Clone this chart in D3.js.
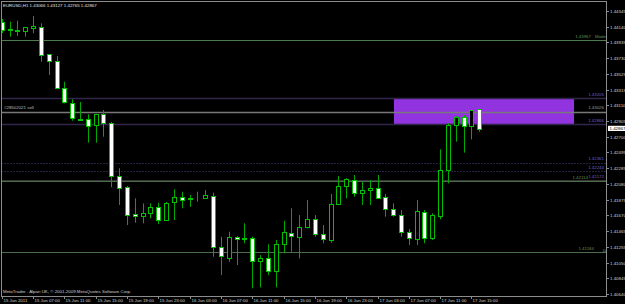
<!DOCTYPE html>
<html>
<head>
<meta charset="utf-8">
<title>EURUSD,H1</title>
<style>
  body { margin: 0; background: #000; }
  svg { display: block; background: #000; }
  text { font-family: "Liberation Sans", Arial, sans-serif; font-size: 4.4px; }
</style>
</head>
<body>
<svg width="625" height="304"></svg>
<script src="https://d3js.org/d3.v7.min.js"></script>
<script>
// EURUSD H1, 15 Jun 2011 03:00 .. 17 Jun 2011 16:00
const openP = [
  1.44205, 1.44090, 1.44096, 1.44074, 1.44126, 1.44139, 1.43778, 1.43690, 1.43333, 1.43137,
  1.42923, 1.42927, 1.42849, 1.42993, 1.42875, 1.42185, 1.42045, 1.41687, 1.41670, 1.41696,
  1.41783, 1.41618, 1.41840, 1.41906, 1.41889, 1.41919, 1.41893, 1.41923, 1.41251, 1.41120,
  1.41390, 1.41365, 1.41369, 1.41068, 1.41107, 1.40932, 1.41294, 1.41442, 1.41390, 1.41513,
  1.41618, 1.41421, 1.41347, 1.41818, 1.42045, 1.42132, 1.41966, 1.42001, 1.42024, 1.41906,
  1.41749, 1.41674, 1.41455, 1.41369, 1.41717, 1.41369, 1.41661, 1.42263, 1.42852, 1.42961,
  1.42839, 1.43066
];
const highP = [
  1.44240, 1.44205, 1.44218, 1.44136, 1.44280, 1.44184, 1.43782, 1.43756, 1.43419, 1.43189,
  1.43154, 1.42993, 1.42996, 1.43049, 1.42892, 1.42286, 1.42054, 1.41893, 1.41827, 1.41827,
  1.41835, 1.41844, 1.42011, 1.41979, 1.41936, 1.41979, 1.42001, 1.41966, 1.41390, 1.41455,
  1.41399, 1.41565, 1.41390, 1.41150, 1.41290, 1.41347, 1.41599, 1.41762, 1.41674, 1.41870,
  1.41674, 1.41543, 1.41949, 1.42185, 1.42155, 1.42198, 1.42110, 1.42132, 1.42198, 1.41949,
  1.41827, 1.41740, 1.41491, 1.41870, 1.41740, 1.41696, 1.42534, 1.42875, 1.42970, 1.42983,
  1.43114, 1.43127
];
const lowP = [
  1.44057, 1.44009, 1.44018, 1.44009, 1.44053, 1.43681, 1.43507, 1.43330, 1.43134, 1.42909,
  1.42918, 1.42621, 1.42621, 1.42699, 1.42037, 1.41805, 1.41543, 1.41573, 1.41565, 1.41631,
  1.41556, 1.41609, 1.41609, 1.41762, 1.41783, 1.41848, 1.41884, 1.41128, 1.40888, 1.41063,
  1.41019, 1.41304, 1.40714, 1.40727, 1.40888, 1.40727, 1.41173, 1.41194, 1.41107, 1.41500,
  1.41390, 1.41304, 1.41311, 1.41805, 1.41893, 1.41914, 1.41805, 1.41805, 1.41884, 1.41652,
  1.41652, 1.41390, 1.41281, 1.41281, 1.41304, 1.41347, 1.41618, 1.42089, 1.42634, 1.42490,
  1.42665, 1.42765
];
const closeP = [
  1.44096, 1.44103, 1.44083, 1.44132, 1.44149, 1.43778, 1.43690, 1.43333, 1.43144, 1.42935,
  1.42931, 1.42839, 1.42993, 1.42875, 1.42185, 1.42024, 1.41674, 1.41661, 1.41704, 1.41775,
  1.41618, 1.41835, 1.41906, 1.41870, 1.41897, 1.41925, 1.41936, 1.41251, 1.41128, 1.41390,
  1.41364, 1.41373, 1.41072, 1.41107, 1.40932, 1.41290, 1.41455, 1.41403, 1.41521, 1.41618,
  1.41421, 1.41356, 1.41818, 1.42058, 1.42141, 1.41966, 1.42001, 1.42028, 1.41897, 1.41749,
  1.41674, 1.41455, 1.41377, 1.41730, 1.41377, 1.41674, 1.42263, 1.42852, 1.42961, 1.42839,
  1.43049, 1.42800
];

const timeLabels = ['15 Jun 2011', '15 Jun 07:00', '15 Jun 11:00', '15 Jun 15:00', '15 Jun 19:00',
  '15 Jun 23:00', '16 Jun 03:00', '16 Jun 07:00', '16 Jun 11:00', '16 Jun 15:00', '16 Jun 19:00',
  '16 Jun 23:00', '17 Jun 03:00', '17 Jun 07:00', '17 Jun 11:00', '17 Jun 15:00'];
const timeLabelBars = [0, 4, 8, 12, 16, 20, 24, 28, 32, 36, 40, 44, 48, 52, 56, 60];

const priceTicks = [1.44345, 1.44140, 1.43935, 1.43730, 1.43525, 1.43315, 1.43110, 1.42905, 1.42700,
  1.42495, 1.42285, 1.42080, 1.41875, 1.41670, 1.41465, 1.41255, 1.41050, 1.40845, 1.40640];

// horizontal objects
const levelPrices = [1.43967, 1.43205, 1.43028, 1.42866, 1.42361, 1.42244, 1.42130, 1.42114, 1.41184];
const levelLabels = ['1.43967', '1.43205', '1.43026', '1.42866', '1.42361', '1.42244', '1.42172', '1.42114', '1.41184'];
const levelKinds  = ['mode', 'purple', 'order', 'purple', 'dot', 'dot', 'grey', 'green', 'green'];

// rectangle zone (bar index from/to, price top/bottom)
const zoneBars = [50.1, 73.1];
const zonePrices = [1.43205, 1.42866];

const titleText = 'EURUSD,H1  1.43066 1.43127 1.42765 1.42867';
const orderText = '#28502021 sell';
const footerText = 'MetaTrader - Alpari UK, \u00a9 2001-2009 MetaQuotes Software Corp.';
const lastPrice = 1.42867;

const svg = d3.select('svg');
const frame = { left: 1.5, top: 1.5, right: 606.5, bottom: 296.5 };

const xScale = d3.scaleLinear().domain([0, 61]).range([1.7, 479.3]);
const yScale = d3.scaleLinear().domain([1.40640, 1.44345]).range([294, 11]);

const bars = openP.map((o, i) => ({ i, o, h: highP[i], l: lowP[i], c: closeP[i] }));

svg.append('defs').append('clipPath').attr('id', 'plot')
  .append('rect')
  .attr('x', frame.left + 0.5).attr('y', frame.top + 0.5)
  .attr('width', frame.right - frame.left - 1).attr('height', frame.bottom - frame.top - 1);

const plot = svg.append('g').attr('clip-path', 'url(#plot)');

// purple zone
plot.append('rect')
  .attr('x', xScale(zoneBars[0]))
  .attr('y', yScale(zonePrices[0]))
  .attr('width', xScale(zoneBars[1]) - xScale(zoneBars[0]))
  .attr('height', yScale(zonePrices[1]) - yScale(zonePrices[0]))
  .attr('fill', '#9133df');

// horizontal lines
const lineStyle = {
  mode:   { stroke: '#4c7c4c', width: 1, dash: null },
  green:  { stroke: '#4c6c4c', width: 1, dash: null },
  purple: { stroke: '#30264c', width: 1.6, dash: null },
  order:  { stroke: '#787878', width: 1.6, dash: null },
  dot:    { stroke: '#4a4488', width: 1, dash: '1,2' },
  grey:   { stroke: '#6a6a6a', width: 1, dash: '1,1' }
};
levelPrices.forEach((p, k) => {
  const st = lineStyle[levelKinds[k]];
  const y = Math.round(yScale(p)) + 0.5;
  plot.append('line')
    .attr('x1', frame.left).attr('x2', frame.right)
    .attr('y1', y).attr('y2', y)
    .attr('stroke', st.stroke)
    .attr('stroke-width', st.width)
    .attr('stroke-dasharray', st.dash);
});

// candles
const candle = plot.selectAll('g.bar').data(bars).enter().append('g').attr('class', 'bar');
candle.append('line')
  .attr('x1', d => Math.round(xScale(d.i)) + 0.5)
  .attr('x2', d => Math.round(xScale(d.i)) + 0.5)
  .attr('y1', d => yScale(d.h))
  .attr('y2', d => yScale(d.l))
  .attr('stroke', '#00a800')
  .attr('stroke-width', 1);
candle.append('rect')
  .attr('x', d => Math.round(xScale(d.i)) - 1.5)
  .attr('y', d => Math.round(yScale(Math.max(d.o, d.c))) + 0.5)
  .attr('width', 4)
  .attr('height', d => Math.max(0, Math.round(Math.abs(yScale(d.o) - yScale(d.c)))))
  .attr('fill', d => d.c > d.o ? '#000' : '#fff')
  .attr('stroke', '#00c000')
  .attr('stroke-width', 1);

// level labels
const labelColor = { mode: '#5e8e5e', green: '#5e8e5e', purple: '#6d5fc8', order: '#9a9a9a', dot: '#6d5fc8', grey: '#6d5fc8' };
levelPrices.forEach((p, k) => {
  const kind = levelKinds[k];
  let xEnd = 604;
  if (kind === 'mode') xEnd = 591;
  if (kind === 'green' && k === 7) xEnd = 588;
  if (kind === 'green' && k === 8) xEnd = 594;
  svg.append('text')
    .attr('x', xEnd).attr('y', yScale(p) - 2.2)
    .attr('text-anchor', 'end')
    .attr('fill', labelColor[kind])
    .text(levelLabels[k]);
  if (kind === 'mode') {
    svg.append('text').attr('x', 606).attr('y', yScale(p) - 2.2)
      .attr('text-anchor', 'end').attr('fill', labelColor[kind]).text('Mode');
  }
  if (k === 8) {
    svg.append('text').attr('x', 606).attr('y', yScale(p) - 0.8)
      .attr('text-anchor', 'end').attr('fill', labelColor[kind]).text('\u03a9');
  }
});

// order label on left
svg.append('text').attr('x', 4).attr('y', yScale(levelPrices[2]) - 2.5)
  .attr('fill', '#bdbdbd').text(orderText);

// frame
svg.append('rect')
  .attr('x', frame.left).attr('y', frame.top)
  .attr('width', frame.right - frame.left).attr('height', frame.bottom - frame.top)
  .attr('fill', 'none').attr('stroke', '#8c8c8c').attr('stroke-width', 1);

// price axis
const yAxis = svg.append('g');
priceTicks.forEach(p => {
  const y = Math.round(yScale(p)) + 0.5;
  yAxis.append('line').attr('x1', frame.right).attr('x2', frame.right + 2.5)
    .attr('y1', y).attr('y2', y).attr('stroke', '#8c8c8c');
  yAxis.append('text').attr('x', 610).attr('y', y)
    .attr('dominant-baseline', 'middle').attr('fill', '#d0d0d0')
    .text(p.toFixed(5));
});
const yLast = yScale(lastPrice) + 4.5;
yAxis.append('rect').attr('x', 608).attr('y', yLast - 2.6).attr('width', 17).attr('height', 5.2).attr('fill', '#fff');
yAxis.append('text').attr('x', 609.5).attr('y', yLast).attr('dominant-baseline', 'middle')
  .attr('fill', '#000').text(lastPrice.toFixed(5));

// time axis
const xAxis = svg.append('g');
timeLabels.forEach((t, k) => {
  const x = Math.round(xScale(timeLabelBars[k])) + 0.5;
  xAxis.append('line').attr('x1', x).attr('x2', x)
    .attr('y1', frame.bottom).attr('y2', frame.bottom + 2.5).attr('stroke', '#8c8c8c');
  xAxis.append('text').attr('x', x + 1).attr('y', 301.5)
    .attr('fill', '#d0d0d0').text(t);
});

// titles
svg.append('text').attr('x', 3).attr('y', 6.5).attr('fill', '#e0e0e0').text(titleText);
svg.append('text').attr('x', 3).attr('y', 292.5).attr('fill', '#cfcfcf').text(footerText);
</script>
</body>
</html>
